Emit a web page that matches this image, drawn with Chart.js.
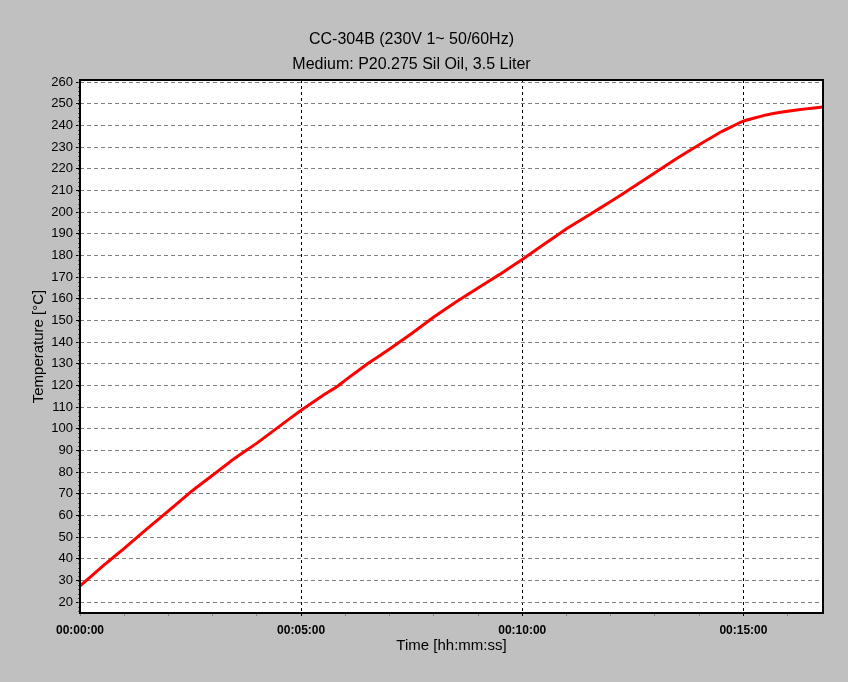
<!DOCTYPE html>
<html>
<head>
<meta charset="utf-8">
<script src="https://cdn.jsdelivr.net/npm/chart.js@4.4.1/dist/chart.umd.min.js"></script>
<style>
  html, body { margin: 0; padding: 0; background: #c0c0c0; }
  #wrap { width: 848px; height: 682px; }
</style>
</head>
<body>
<div id="wrap"><canvas id="tempChart" width="848" height="682"></canvas></div>
<script>
// Data (time in seconds, temperature in °C)
const titleLines = ['CC-304B (230V 1~ 50/60Hz)', 'Medium: P20.275 Sil Oil, 3.5 Liter'];
const timeSeconds = [0, 30, 60, 90, 120, 150, 180, 210, 240, 270, 300, 330, 350, 360, 390, 420, 450, 480, 510, 540, 570, 600, 630, 660, 690, 720, 750, 780, 810, 840, 870, 900, 930, 960, 990, 1008];
const temperature = [27.5, 36.4, 44.8, 53.6, 62.1, 70.8, 78.6, 86.4, 93.4, 101.0, 108.6, 115.5, 119.8, 122.5, 130.0, 136.8, 144.0, 151.6, 158.5, 165.0, 171.4, 178.2, 185.3, 192.3, 198.6, 204.9, 211.5, 218.2, 224.9, 231.1, 237.1, 242.0, 244.8, 246.6, 247.9, 248.5];
const xMax = 1008;
const yMin = 15, yMax = 261;
const yMinorStep = 2;

Chart.defaults.font.family = "'Liberation Sans', Arial, sans-serif";
Chart.defaults.color = '#000';

function fmtTime(sec) {
    const h = Math.floor(sec / 3600);
    const m = Math.floor((sec % 3600) / 60);
    const s = Math.round(sec % 60);
    const p = (n) => String(n).padStart(2, '0');
    return p(h) + ':' + p(m) + ':' + p(s);
}

// white plot area + frame + small minor ticks on the y axis
const plotFrame = {
    id: 'plotFrame',
    beforeDraw(chart) {
        const a = chart.chartArea, ctx = chart.ctx;
        ctx.save();
        ctx.fillStyle = '#fff';
        ctx.fillRect(a.left, a.top, a.right - a.left, a.bottom - a.top);
        ctx.restore();
    },
    afterDraw(chart) {
        const a = chart.chartArea, ctx = chart.ctx, ys = chart.scales.y;
        ctx.save();
        ctx.strokeStyle = '#555';
        ctx.lineWidth = 1;
        ctx.beginPath();
        for (let v = Math.ceil(yMin / yMinorStep) * yMinorStep; v <= yMax; v += yMinorStep) {
            const py = Math.round(ys.getPixelForValue(v)) + 0.5;
            ctx.moveTo(a.left - 2, py);
            ctx.lineTo(a.left, py);
        }
        ctx.stroke();
        ctx.strokeStyle = '#000';
        ctx.lineWidth = 2;
        ctx.strokeRect(a.left, a.top, a.right - a.left, a.bottom - a.top);
        ctx.restore();
    }
};

const ctx = document.getElementById('tempChart').getContext('2d');
const chart = new Chart(ctx, {
    type: 'line',
    data: {
        datasets: [{
            data: timeSeconds.map((t, i) => ({ x: t, y: temperature[i] })),
            borderColor: '#ff0000',
            borderWidth: 3,
            pointRadius: 0,
            tension: 0.1,
            fill: false
        }]
    },
    options: {
        responsive: false,
        animation: false,
        layout: { padding: { left: 0, right: 25, top: 0, bottom: 0 } },
        plugins: {
            legend: { display: false },
            tooltip: { enabled: false },
            title: {
                display: true,
                text: titleLines,
                font: { size: 16, weight: 'normal', lineHeight: 1.5625 },
                color: '#000',
                padding: { top: 27, bottom: 3 }
            }
        },
        scales: {
            x: {
                type: 'linear',
                min: 0, max: xMax,
                afterFit(scale) { scale.height = 69; },
                border: { display: false, dash: [3, 3] },
                grid: {
                    color: (c) => (c.tick && c.tick.value % 300 === 0) ? '#000' : 'rgba(0,0,0,0)',
                    tickColor: (c) => (c.tick && c.tick.value % 300 === 0 && c.tick.value > 0) ? '#000' : '#888',
                    tickBorderDash: [3, 2],
                    tickLength: 5,
                    lineWidth: 1
                },
                ticks: {
                    stepSize: 60,
                    includeBounds: false,
                    autoSkip: false,
                    maxRotation: 0,
                    padding: 5,
                    font: { size: 12, weight: 'bold' },
                    callback: (v) => v % 300 === 0 ? fmtTime(v) : ''
                },
                title: {
                    display: true,
                    text: 'Time [hh:mm:ss]',
                    font: { size: 15 },
                    padding: { top: 0, bottom: 27 }
                }
            },
            y: {
                min: yMin, max: yMax,
                afterFit(scale) { scale.width = 80; },
                border: { display: false, dash: [4, 3] },
                grid: {
                    color: '#808080',
                    tickColor: '#000',
                    tickLength: 4,
                    lineWidth: 1
                },
                ticks: {
                    stepSize: 10,
                    includeBounds: false,
                    padding: 3,
                    font: { size: 13 }
                },
                title: {
                    display: true,
                    text: 'Temperature [°C]',
                    font: { size: 15 },
                    padding: { top: 30, bottom: 0 }
                }
            }
        }
    },
    plugins: [plotFrame]
});
</script>
</body>
</html>
